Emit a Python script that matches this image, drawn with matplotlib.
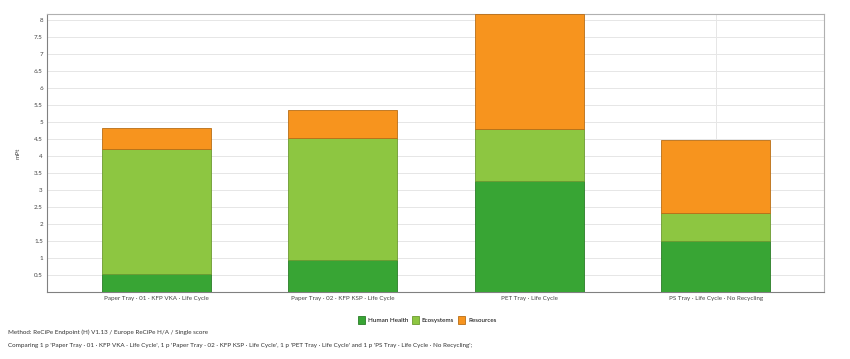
import matplotlib.pyplot as plt
import numpy as np

plt.rcParams['font.family'] = ['Lato', 'DejaVu Sans']

# data (mPt)
products = ["Paper Tray - 01 - KFP VKA - Life Cycle",
            "Paper Tray - 02 - KFP KSP - Life Cycle",
            "PET Tray - Life Cycle",
            "PS Tray - Life Cycle - No Recycling"]
human_health = [0.53, 0.94, 3.26, 1.50]
ecosystems = [3.67, 3.59, 1.53, 0.82]
resources = [0.62, 0.82, 3.38, 2.15]

series = [("Human Health", human_health, '#38a534', '#2a7d27'),
          ("Ecosystems", ecosystems, '#8dc641', '#6c9a30'),
          ("Resources", resources, '#f7941e', '#b86d16')]

fs = 4.5

fig = plt.figure(figsize=(8.5, 3.59), dpi=100)
ax = fig.add_axes([47/850, 1 - 292/359, 777/850, 278/359])

x = np.arange(len(products))
bottom = np.zeros(len(products))
handles = []
for name, vals, col, edge in series:
    b = ax.bar(x, vals, 0.585, bottom=bottom, color=col, edgecolor=edge,
               linewidth=0.6, label=name, zorder=3)
    handles.append(b)
    bottom += np.array(vals)

ax.set_xlim(-0.587, 3.58)
ax.set_ylim(0, bottom.max())
ticks = np.arange(0.5, 8.01, 0.5)
ax.set_yticks(ticks)
ax.set_yticklabels([f"{v:g}" for v in ticks])
ax.set_xticks(x)
ax.set_xticklabels([p.replace(" - ", " · ") for p in products])
ax.tick_params(labelsize=fs, colors='#444444', length=0, pad=3)
ax.grid(axis='y', color='#e6e6e6', linewidth=0.7, zorder=0)
ax.axvline(3, color='#e6e6e6', linewidth=0.7, zorder=1)
for s in ['left', 'bottom']:
    ax.spines[s].set_color('#808080')
for s in ['top', 'right']:
    ax.spines[s].set_color('#b0b0b0')
for s in ax.spines.values():
    s.set_linewidth(0.8)
ax.set_ylabel("mPt", fontsize=fs, color='#444444', labelpad=10)

fig.legend(handles=handles, loc='center', bbox_to_anchor=(427/850, 1 - 320/359),
           ncol=3, frameon=False, fontsize=fs, handlelength=1.2, handleheight=1.4,
           handletextpad=0.4, columnspacing=0.6)

fig.text(8/850, 1 - 332/359,
         "Method: ReCiPe Endpoint (H) V1.13 / Europe ReCiPe H/A / Single score",
         fontsize=fs, color='#333333', va='center')
fig.text(8/850, 1 - 345/359,
         "Comparing 1 p 'Paper Tray · 01 · KFP VKA · Life Cycle', 1 p 'Paper Tray · 02 · KFP KSP · Life Cycle', "
         "1 p 'PET Tray · Life Cycle' and 1 p 'PS Tray · Life Cycle · No Recycling';",
         fontsize=fs, color='#333333', va='center')

fig.savefig("out.png", dpi=100)
